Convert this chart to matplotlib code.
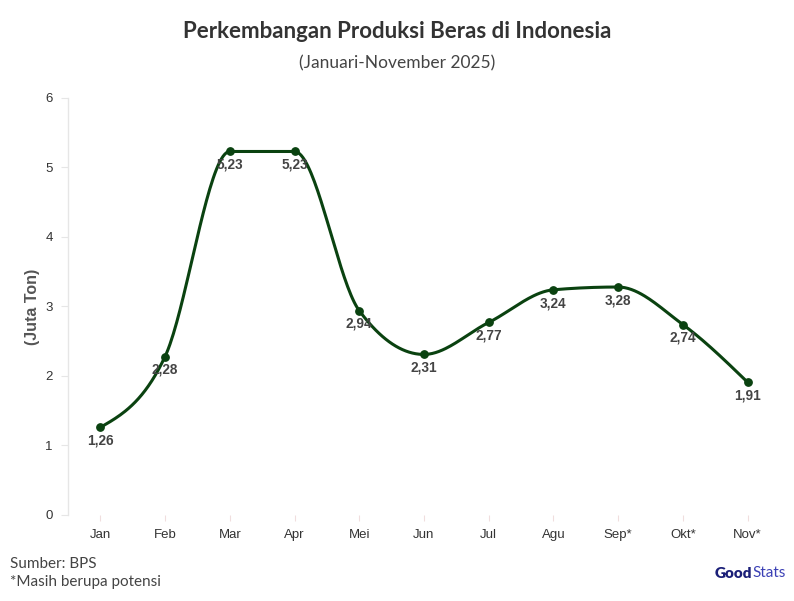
import matplotlib.pyplot as plt
import numpy as np

months = ["Jan", "Feb", "Mar", "Apr", "Mei", "Jun", "Jul", "Agu", "Sep*", "Okt*", "Nov*"]
produksi = [1.26, 2.28, 5.23, 5.23, 2.94, 2.31, 2.77, 3.24, 3.28, 2.74, 1.91]
yticks = [0, 1, 2, 3, 4, 5, 6]

lineColor = "#0a4210"
textGrey = "#444444"


def monotone_curve(x, y, n=40):
    # monotone cubic (same idea as d3 curveMonotoneX)
    x = np.asarray(x, float)
    y = np.asarray(y, float)
    h = np.diff(x)
    s = np.diff(y) / h
    t = np.zeros(len(x))
    for i in range(1, len(x) - 1):
        p = (s[i - 1] * h[i] + s[i] * h[i - 1]) / (h[i - 1] + h[i])
        t[i] = (np.sign(s[i - 1]) + np.sign(s[i])) * min(abs(s[i - 1]), abs(s[i]), 0.5 * abs(p))
    t[0] = (3 * s[0] - t[1]) / 2
    t[-1] = (3 * s[-1] - t[-2]) / 2
    xs, ys = [], []
    u = np.linspace(0, 1, n)
    for i in range(len(x) - 1):
        dx = h[i] / 3
        px = [x[i], x[i] + dx, x[i + 1] - dx, x[i + 1]]
        py = [y[i], y[i] + dx * t[i], y[i + 1] - dx * t[i + 1], y[i + 1]]
        b = [(1 - u) ** 3, 3 * u * (1 - u) ** 2, 3 * u ** 2 * (1 - u), u ** 3]
        xs.append(sum(bb * pp for bb, pp in zip(b, px)))
        ys.append(sum(bb * pp for bb, pp in zip(b, py)))
    return np.concatenate(xs), np.concatenate(ys)


fig = plt.figure(figsize=(7.94, 6.01), dpi=100)
ax = fig.add_axes([0.0856, 0.1431, 0.8967, 0.6939])

xPos = np.arange(len(months))
cx, cy = monotone_curve(xPos, produksi)
ax.plot(cx, cy, color=lineColor, lw=2.2, zorder=3, solid_capstyle="round")
ax.scatter(xPos, produksi, s=28, color=lineColor, zorder=4)

for xi, v in zip(xPos, produksi):
    ax.annotate(f"{v:.2f}".replace(".", ","), (xi, v), xytext=(0, -4.5),
                textcoords="offset points", ha="center", va="top",
                fontsize=9.8, fontweight="bold", color=textGrey,
                family="Liberation Sans", zorder=5)

ax.set_xlim(-0.5, len(months) - 0.5)
ax.set_ylim(0, 6)
ax.set_xticks(xPos)
ax.set_xticklabels(months, family="Liberation Sans", fontsize=9.5, color="#333333")
ax.set_yticks(yticks)
ax.set_yticklabels([str(v) for v in yticks], family="Liberation Sans", fontsize=9.5, color="#333333")
ax.tick_params(axis="y", length=5, color="#e6e6e6", pad=6)
ax.tick_params(axis="x", length=4, color="#f0dede", pad=6)

for side in ["top", "right", "bottom"]:
    ax.spines[side].set_visible(False)
ax.spines["left"].set_color("#e6e6e6")
ax.spines["left"].set_linewidth(1)

ax.set_ylabel("(Juta Ton)", family="Liberation Sans", fontsize=11.5,
              fontweight="bold", color="#555555", labelpad=4)

fig.text(0.5, 0.947, "Perkembangan Produksi Beras di Indonesia", ha="center", va="center",
         family="Lato", fontweight="bold", fontsize=16, color="#333333")
fig.text(0.5, 0.895, "(Januari-November 2025)", ha="center", va="center",
         family="Lato", fontsize=12.5, color="#444444")

fig.text(0.013, 0.062, "Sumber: BPS", ha="left", va="center",
         family="Lato", fontsize=11, color="#444444")
fig.text(0.013, 0.032, "*Masih berupa potensi", ha="left", va="center",
         family="Lato", fontsize=11, color="#444444")

# logo text, "Stats" placed right after "Good"
good = fig.text(0.9, 0.046, "Good", ha="left", va="center", family="Lato",
                fontweight="heavy", fontsize=11, color="#1b1f78")
fig.canvas.draw()
bb = good.get_window_extent().transformed(fig.transFigure.inverted())
fig.text(bb.x1, 0.046, "Stats", ha="left", va="center", family="Lato",
         fontsize=11, color="#3b40b5")

fig.savefig("out.png", dpi=100)
